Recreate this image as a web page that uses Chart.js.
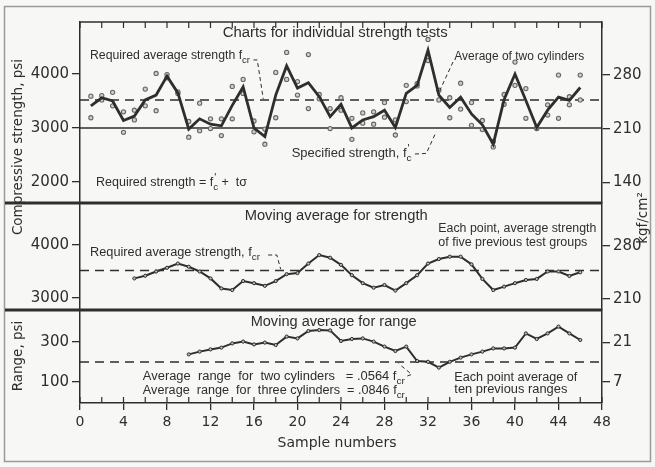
<!DOCTYPE html>
<html lang="en">
<head>
<meta charset="UTF-8">
<title>Control charts for strength tests</title>
<script src="https://cdn.jsdelivr.net/npm/chart.js"></script>
<style>
  body { margin: 0; background: #f7f7f5; }
</style>
</head>
<body>
<canvas id="qcChart" width="655" height="467"></canvas>
<script>
// values (psi unless noted)
const topSamples = [1,2,3,4,5,6,7,8,9,10,11,12,13,14,15,16,17,18,19,20,21,22,23,
  24,25,26,27,28,29,30,31,32,33,34,35,36,37,38,39,40,41,42,43,44,45,46];
const avgOfTwo = [3410,3560,3500,3140,3220,3520,3610,3960,3650,2980,3170,3070,3040,3420,3760,3000,
  2840,3610,4150,3740,3840,3580,3210,3440,3000,3150,3210,3330,3010,3640,3790,4440,
  3610,3380,3570,3260,3060,2700,3530,4000,3510,3010,3330,3570,3510,3750];
const cylinderA = [3590,3600,3660,3300,3330,3720,4010,3990,3670,3120,3460,3170,3170,3770,3900,3130,
  2700,3190,4400,3860,4360,3620,3360,3560,3180,3280,3300,3470,2870,3790,3820,4640,
  3700,3560,3830,3470,3140,2650,3440,4220,3730,3000,3430,3980,3430,3980];
const cylinderB = [3190,3520,3410,2920,3150,3410,3320,3930,3640,2830,2950,2990,2860,3170,3640,2930,
  2980,4030,3900,3610,3360,3540,2990,3330,2790,3090,3070,3200,3150,3490,3780,4250,
  3520,3190,3350,3050,2970,2750,3620,3790,3180,2990,3240,3180,3580,3520];

const movingSamples = [5,6,7,8,9,10,11,12,13,14,15,16,17,18,19,20,21,22,23,24,25,
  26,27,28,29,30,31,32,33,34,35,36,37,38,39,40,41,42,43,44,45,46];
const movingAvgStrength = [3370,3420,3500,3570,3650,3590,3500,3370,3180,3150,3320,3280,3230,3320,
  3450,3470,3650,3810,3760,3625,3430,3280,3195,3245,3140,3280,3430,3650,3735,3780,3780,
  3635,3360,3150,3215,3280,3340,3360,3500,3500,3415,3485];

const rangeSamples = [10,11,12,13,14,15,16,17,18,19,20,21,22,23,24,25,26,27,28,
  29,30,31,32,33,34,35,36,37,38,39,40,41,42,43,44,45,46];
const movingAvgRange = [238,252,263,272,293,302,288,297,285,327,318,355,360,358,305,315,318,302,
  277,255,277,205,201,172,201,222,238,252,268,268,272,343,315,343,377,343,310];

const specifiedStrength = 3000;   // f'c
const requiredAvgStrength = 3520; // fcr
const avgRangeLimit = 200;        // .0564 fcr

const xTickValues = [0,4,8,12,16,20,24,28,32,36,40,44,48];
const topPsiTicks = [2000,3000,4000];
const midPsiTicks = [3000,4000];
const rangePsiTicks = [100,300];
const topKgfTicks = [140,210,280];
const midKgfTicks = [210,280];
const rangeKgfTicks = [7,21];

const PSI_TO_KGF = 0.070307;
const topLimits = [1611, 4963], midLimits = [2774, 4792], rangeLimits = [-5, 460];

const ink = '#2e2e2e';
const tickFont = { family: 'DejaVu Sans', size: 15 };
const noteFamily = 'Liberation Sans';

const pts = (xs, ys) => xs.map((x, i) => ({ x: x, y: ys[i] }));
const flat = (v) => [{ x: 0, y: v }, { x: 48, y: v }];

// text notes placed in data units of the panel they belong to
const notes = [
  { axis: 'yTop', x: 13.12, y: 4759, size: 14, w: 225, parts: [['Charts for individual strength tests']] },
  { axis: 'yTop', x: 0.92, y: 4333, size: 12.5, w: 160, parts: [['Required average strength f'], ['cr', 'sub']] },
  { axis: 'yTop', x: 34.42, y: 4315, size: 12.5, w: 130, parts: [['Average of two cylinders']] },
  { axis: 'yTop', x: 19.46, y: 2518, size: 12.5, w: 120, parts: [['Specified strength, f'], ["'", 'prime'], ['c', 'sub']] },
  { axis: 'yTop', x: 1.47, y: 1981, size: 12.5, w: 151, parts: [['Required strength = f'], ["'", 'prime'], ['c', 'sub'], [' +  t\u03c3']] },
  { axis: 'yMid', x: 15.14, y: 4547, size: 14, w: 183, parts: [['Moving average for strength']] },
  { axis: 'yMid', x: 0.92, y: 3849, size: 12.5, w: 170, parts: [['Required average strength, f'], ['cr', 'sub']] },
  { axis: 'yMid', x: 32.95, y: 4302, size: 12.5, w: 158, parts: [['Each point, average strength']] },
  { axis: 'yMid', x: 32.95, y: 4038, size: 12.5, w: 149, parts: [['of five previous test groups']] },
  { axis: 'yBot', x: 15.69, y: 400, size: 14, w: 166, parts: [['Moving average for range']] },
  { axis: 'yBot', x: 5.78, y: 125, size: 12.5, w: 262, parts: [['Average  range  for  two cylinders   = .0564 f'], ['cr', 'sub']] },
  { axis: 'yBot', x: 5.78, y: 55, size: 12.5, w: 262, parts: [['Average  range  for  three cylinders  = .0846 f'], ['cr', 'sub']] },
  { axis: 'yBot', x: 34.42, y: 120, size: 12.5, w: 123, parts: [['Each point average of']] },
  { axis: 'yBot', x: 34.42, y: 60, size: 12.5, w: 113, parts: [['ten previous ranges']] }
];

// dashed pointer lines from notes to their lines
const leaders = [
  { axis: 'yTop', path: [[15.95, 4260], [16.3, 4260], [16.85, 3540]] },
  { axis: 'yTop', path: [[34.3, 4222], [33.05, 3680]] },
  { axis: 'yTop', path: [[30.8, 2518], [31.85, 2530], [32.75, 2930]] },
  { axis: 'yMid', path: [[17.3, 3811], [18.1, 3811], [18.45, 3545]] },
  { axis: 'yBot', path: [[30.1, 130], [30.5, 138], [29.3, 192]] }
];

function drawParts(ctx, x, y, note) {
  const fam = noteFamily;
  const size = note.size;
  // measure natural width first
  let total = 0;
  for (const [t, mode] of note.parts) {
    ctx.font = (mode ? size * 0.78 : size) + 'px ' + fam;
    if (mode !== 'prime') total += ctx.measureText(t).width;
  }
  const sx = note.w / total;
  ctx.save();
  ctx.translate(x, y);
  ctx.scale(sx, 1);
  let cx = 0;
  for (const [t, mode] of note.parts) {
    let fs = size, dy = 0;
    if (mode === 'sub') { fs = size * 0.78; dy = size * 0.35; }
    if (mode === 'prime') { fs = size * 0.85; dy = -size * 0.4; }
    ctx.font = fs + 'px ' + fam;
    ctx.fillText(t, cx + (mode === 'prime' ? 1 : 0), dy);
    if (mode !== 'prime') cx += ctx.measureText(t).width;
  }
  ctx.restore();
}

const decorations = {
  id: 'decorations',
  beforeDraw(chart) {
    const ctx = chart.ctx;
    ctx.save();
    ctx.fillStyle = '#f7f7f5';
    ctx.fillRect(0, 0, chart.width, chart.height);
    ctx.restore();
  },
  afterDraw(chart) {
    const ctx = chart.ctx;
    const area = chart.chartArea;
    const xs = chart.scales.x;
    ctx.save();
    ctx.strokeStyle = '#9a9a9a';
    ctx.lineWidth = 1.5;
    ctx.strokeRect(4.5, 6.5, 646, 455);

    ctx.strokeStyle = ink;
    // top frame line
    ctx.lineWidth = 1.5;
    ctx.beginPath();
    ctx.moveTo(area.left, area.top);
    ctx.lineTo(area.right, area.top);
    ctx.stroke();
    // panel separators
    ctx.lineWidth = 3;
    for (const id of ['yTop', 'yMid']) {
      const yb = chart.scales[id].bottom;
      ctx.beginPath();
      ctx.moveTo(5, yb);
      ctx.lineTo(area.right, yb);
      ctx.stroke();
    }
    // inward tick marks on top and bottom frame
    ctx.lineWidth = 1.2;
    for (const t of xs.ticks) {
      const px = xs.getPixelForValue(t.value);
      ctx.beginPath();
      ctx.moveTo(px, area.top);
      ctx.lineTo(px, area.top + 6);
      ctx.moveTo(px, area.bottom);
      ctx.lineTo(px, area.bottom - 6);
      ctx.stroke();
    }
    // leaders
    ctx.lineWidth = 1;
    ctx.setLineDash([4, 3]);
    for (const l of leaders) {
      const ys = chart.scales[l.axis];
      ctx.beginPath();
      l.path.forEach(([vx, vy], i) => {
        const px = xs.getPixelForValue(vx), py = ys.getPixelForValue(vy);
        if (i === 0) ctx.moveTo(px, py); else ctx.lineTo(px, py);
      });
      ctx.stroke();
    }
    ctx.setLineDash([]);
    // notes
    ctx.fillStyle = ink;
    ctx.textBaseline = 'middle';
    ctx.textAlign = 'left';
    for (const n of notes) {
      drawParts(ctx, xs.getPixelForValue(n.x), chart.scales[n.axis].getPixelForValue(n.y), n);
    }
    // axis titles
    ctx.textAlign = 'center';
    ctx.font = '14px DejaVu Sans';
    ctx.fillText('Sample numbers', (area.left + area.right) / 2 - 4, 443);
    const vtitle = (text, x, y) => {
      ctx.save();
      ctx.translate(x, y);
      ctx.rotate(-Math.PI / 2);
      ctx.fillText(text, 0, 0);
      ctx.restore();
    };
    ctx.font = '13.5px DejaVu Sans';
    vtitle('Compressive strength, psi', 18, 147);
    vtitle('Range, psi', 18, 356);
    vtitle('kgf/cm\u00b2', 643, 218);
    ctx.restore();
  }
};

function yAxis(pos, stack, weight, stackWeight, limits, tickVals, factor) {
  return {
    type: 'linear', position: pos, stack: stack, weight: weight, stackWeight: stackWeight,
    min: limits[0] * factor, max: limits[1] * factor,
    afterBuildTicks: (s) => { s.ticks = tickVals.map(v => ({ value: v })); },
    afterFit: (s) => { s.width = pos === 'left' ? 80 : 53; },
    ticks: { font: tickFont, color: ink, padding: 3, callback: (v) => String(v) },
    grid: { drawOnChartArea: false, tickLength: 8, color: ink, lineWidth: 1.3 },
    border: { color: ink, width: 1.5 }
  };
}

const lineStyle = { borderColor: ink, backgroundColor: ink, fill: false, tension: 0 };

new Chart(document.getElementById('qcChart'), {
  type: 'line',
  data: {
    datasets: [
      Object.assign({ label: 'Average of two cylinders', data: pts(topSamples, avgOfTwo), yAxisID: 'yTop',
        borderWidth: 2.8, pointRadius: 0 }, lineStyle),
      { label: 'Cylinder 1', data: pts(topSamples, cylinderA), yAxisID: 'yTop', showLine: false,
        pointRadius: 2.1, pointBorderWidth: 1.1, pointBorderColor: '#666', pointBackgroundColor: '#d0d0d0' },
      { label: 'Cylinder 2', data: pts(topSamples, cylinderB), yAxisID: 'yTop', showLine: false,
        pointRadius: 2.1, pointBorderWidth: 1.1, pointBorderColor: '#666', pointBackgroundColor: '#d0d0d0' },
      Object.assign({ label: 'fcr', data: flat(requiredAvgStrength), yAxisID: 'yTop',
        borderWidth: 1.5, borderDash: [9, 6], pointRadius: 0 }, lineStyle),
      Object.assign({ label: "f'c", data: flat(specifiedStrength), yAxisID: 'yTop',
        borderWidth: 1.6, pointRadius: 0 }, lineStyle),
      Object.assign({ label: 'Moving average for strength', data: pts(movingSamples, movingAvgStrength), yAxisID: 'yMid',
        borderWidth: 2, pointRadius: 1.6, pointBorderWidth: 1, pointBackgroundColor: '#bbb' }, lineStyle),
      Object.assign({ label: 'fcr (moving)', data: flat(requiredAvgStrength), yAxisID: 'yMid',
        borderWidth: 1.5, borderDash: [9, 6], pointRadius: 0 }, lineStyle),
      Object.assign({ label: 'Moving average for range', data: pts(rangeSamples, movingAvgRange), yAxisID: 'yBot',
        borderWidth: 2, pointRadius: 1.6, pointBorderWidth: 1, pointBackgroundColor: '#bbb' }, lineStyle),
      Object.assign({ label: 'Average range', data: flat(avgRangeLimit), yAxisID: 'yBot',
        borderWidth: 1.5, borderDash: [9, 6], pointRadius: 0 }, lineStyle)
    ]
  },
  options: {
    responsive: false,
    animation: false,
    layout: { padding: { top: 22, left: 0, right: 0, bottom: 0 } },
    plugins: { legend: { display: false }, tooltip: { enabled: false } },
    scales: {
      x: {
        type: 'linear', position: 'bottom', min: 0, max: 48,
        ticks: { stepSize: 2, autoSkip: false, maxRotation: 0, font: { family: 'DejaVu Sans', size: 14 }, color: ink, padding: 4,
          callback: (v) => xTickValues.includes(v) ? String(v) : '' },
        grid: { drawOnChartArea: false, tickLength: 7,
          color: (c) => xTickValues.includes(c.tick && c.tick.value) ? ink : 'rgba(0,0,0,0)', lineWidth: 1.3 },
        border: { color: ink, width: 1.5 },
        afterFit: (s) => { s.height = 64; }
      },
      yTop: yAxis('left', 'L', 3, 181, topLimits, topPsiTicks, 1),
      yMid: yAxis('left', 'L', 2, 107, midLimits, midPsiTicks, 1),
      yBot: yAxis('left', 'L', 1, 93, rangeLimits, rangePsiTicks, 1),
      kTop: yAxis('right', 'R', 1, 181, topLimits, topKgfTicks, PSI_TO_KGF),
      kMid: yAxis('right', 'R', 2, 107, midLimits, midKgfTicks, PSI_TO_KGF),
      kBot: yAxis('right', 'R', 3, 93, rangeLimits, rangeKgfTicks, PSI_TO_KGF)
    }
  },
  plugins: [decorations]
});
</script>
</body>
</html>
